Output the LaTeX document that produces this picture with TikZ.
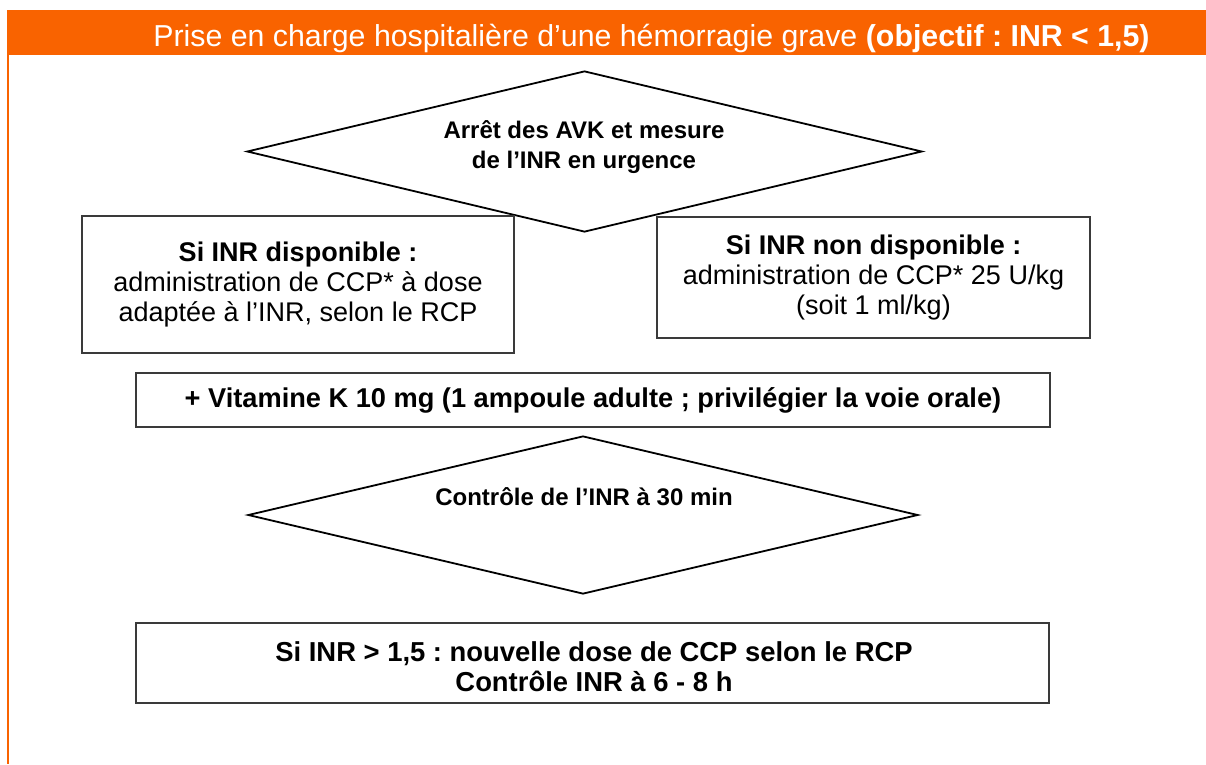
\documentclass[tikz,border=0pt]{standalone}
\usepackage{fontspec}
\setmainfont{Liberation Sans}
\usetikzlibrary{shapes.geometric}
\definecolor{hdr}{HTML}{F96300}
\definecolor{boxline}{HTML}{3A3A3A}
\frenchspacing
\tikzset{
  boxnode/.style={draw=boxline, line width=2pt, fill=white, align=center, inner sep=0pt,
    font=\fontsize{27}{30}\selectfont},
  decision/.style={draw=black, line width=1.8pt, diamond, inner sep=0pt, fill=white},
  dtext/.style={align=center, font=\bfseries\fontsize{24}{30}\selectfont, inner sep=0pt},
}
\begin{document}
\begin{tikzpicture}[x=1pt,y=-1pt]
\useasboundingbox (0,0) rectangle (1206,764);
% header
\fill[hdr] (7,10) rectangle (1206,55);
\draw[hdr, line width=2pt] (8,55) -- (8,764);
\node[anchor=base, text=white, inner sep=0pt, font=\fontsize{30.3}{32}\selectfont] (title) at (651.5,46)
  {Prise en charge hospitalière d’une hémorragie grave \textbf{(objectif : INR < 1,5)}};
% decision 1
\node[decision, minimum width=675pt, minimum height=161pt] (d1) at (584.5,151.5) {};
\node[dtext] (d1t) at (584,147) {Arrêt des AVK et mesure\\de l’INR en urgence};
% boxes
\node[boxnode, minimum width=432pt, minimum height=137pt] (b1) at (298,284.5)
  {\textbf{Si INR disponible :}\\administration de CCP* à dose\\adaptée à l'INR, selon le RCP};
\node[boxnode, minimum width=433pt, minimum height=121pt] (b2) at (873.5,277.5)
  {\textbf{Si INR non disponible :}\\administration de CCP* 25 U/kg\\(soit 1 ml/kg)};
\node[boxnode, minimum width=914pt, minimum height=54pt, font=\bfseries\fontsize{27.2}{30}\selectfont] (vk) at (593,400)
  {+ Vitamine K 10 mg (1 ampoule adulte ; privilégier la voie orale)};
% decision 2
\node[decision, minimum width=670pt, minimum height=158pt] (d2) at (583,515) {};
\node[dtext] (d2t) at (584,497) {Contrôle de l’INR à 30 min};
% bottom box
\node[boxnode, minimum width=913pt, minimum height=80pt] (b3) at (592.5,663) {};
\node[align=center, inner sep=0pt, font=\bfseries\fontsize{27.4}{30}\selectfont] (b3t) at (594,667)
  {Si INR > 1,5 : nouvelle dose de CCP selon le RCP\\Contrôle INR à 6 - 8 h};
\end{tikzpicture}
\end{document}
